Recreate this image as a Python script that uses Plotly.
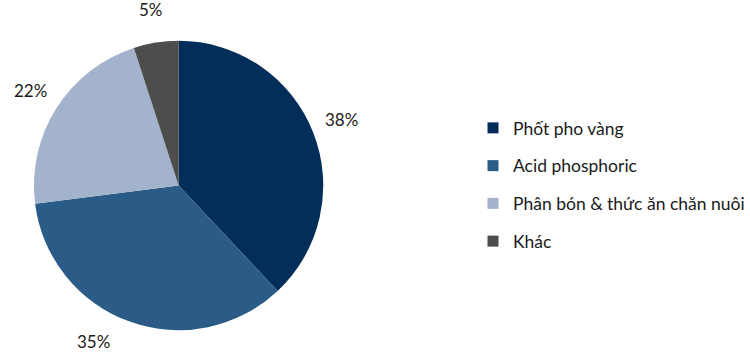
import math
import plotly.graph_objects as go

labels = ["Phốt pho vàng", "Acid phosphoric", "Phân bón & thức ăn chăn nuôi", "Khác"]
values = [38, 35, 22, 5]
colors = ["#032E5A", "#2B5C87", "#A3B3CB", "#4D4D4D"]

W, H = 750, 352
cx, cy, r = 181.5, 185.5, 147
label_r = 178
FONT = "Lato"

fig = go.Figure()
fig.add_trace(go.Pie(
    labels=labels, values=values, sort=False, direction="clockwise", rotation=0,
    marker=dict(colors=colors, line=dict(width=0)),
    textinfo="none", showlegend=False, hoverinfo="label+percent",
    domain=dict(x=[(cx - r) / W, (cx + r) / W], y=[(H - cy - r) / H, (H - cy + r) / H]),
))

for lab, col in zip(labels, colors):
    fig.add_trace(go.Scatter(
        x=[None], y=[None], mode="markers", name=lab, legendgroup=lab,
        marker=dict(symbol="square", size=11, color=col),
    ))

total = sum(values)
cum = 0
for v in values:
    mid = (cum + v / 2) / total * 2 * math.pi
    cum += v
    px = cx + label_r * math.sin(mid)
    py = cy - label_r * math.cos(mid)
    lim = H - 11
    if py > lim:
        # slide label along the circle so it stays inside the canvas
        c = -(lim - cy) / label_r
        ang = math.acos(c)
        if math.sin(mid) < 0:
            ang = 2 * math.pi - ang
        px = cx + label_r * math.sin(ang)
        py = cy - label_r * math.cos(ang)
    fig.add_annotation(
        x=px / W, y=(H - py) / H, xref="paper", yref="paper",
        text=f"{round(v / total * 100)}%", showarrow=False,
        font=dict(family=FONT, size=17, color="#1a1a1a"),
        xanchor="center", yanchor="middle",
    )

fig.update_layout(
    width=W, height=H, margin=dict(l=0, r=0, t=0, b=0),
    paper_bgcolor="white", plot_bgcolor="white",
    xaxis=dict(visible=False), yaxis=dict(visible=False),
    legend=dict(x=481 / W, y=(H - 110) / H, xanchor="left", yanchor="top",
                font=dict(family=FONT, size=17.5, color="#1a1a1a"),
                tracegroupgap=12, itemwidth=30, bgcolor="rgba(0,0,0,0)"),
    font=dict(family=FONT),
)

fig.write_html("out.html")
